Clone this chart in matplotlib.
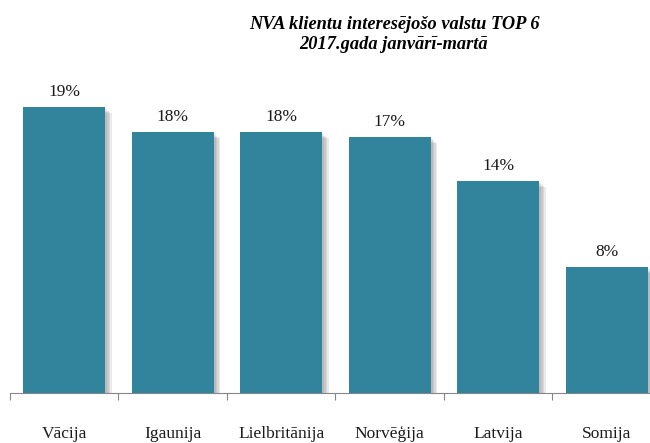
import matplotlib
matplotlib.use("Agg")
import matplotlib.pyplot as plt
import matplotlib.patheffects as pe
import numpy as np

categories = ["Vācija", "Igaunija", "Lielbritānija", "Norvēģija", "Latvija", "Somija"]
values = [19.23, 17.55, 17.55, 17.22, 14.26, 8.47]
labels = ["19%", "18%", "18%", "17%", "14%", "8%"]
title = "NVA klientu interesējošo valstu TOP 6\n2017.gada janvārī-martā"

plt.rcParams['font.family'] = ['Liberation Serif', 'DejaVu Serif']

W, H = 650, 443
fig = plt.figure(figsize=(W / 100, H / 100), dpi=100)
left_px, base_px, top_px, slot = 10, 393, 60, 108.5
ax = fig.add_axes([left_px / W, (H - base_px) / H, 6 * slot / W, (base_px - top_px) / H])

shadow = [pe.SimplePatchShadow(offset=(d, -d), shadow_rgbFace="#606060", alpha=0.13)
          for d in (4.5, 3.5, 2.5, 1.5)]
x = np.arange(len(categories))
bars = ax.bar(x, values, width=0.756, color="#31849B", zorder=3,
              path_effects=shadow + [pe.Normal()])
for xi, v, lab in zip(x, values, labels):
    ax.annotate(lab, (xi, v), xytext=(0, 5), textcoords="offset points",
                ha="center", va="bottom", fontsize=12.5, color="#1a1a1a")

ax.set_xlim(-0.5, len(categories) - 0.5)
ax.set_ylim(0, (base_px - top_px) / 14.87)
ax.set_yticks([])
for s in ["top", "right", "left"]:
    ax.spines[s].set_visible(False)
ax.spines["bottom"].set_color("#868686")
ax.spines["bottom"].set_linewidth(0.8)

ax.set_xticks(x)
ax.set_xticklabels(categories, fontsize=12.5, color="#1a1a1a")
ax.tick_params(axis="x", which="major", length=0, pad=23.5)
ax.set_xticks(np.arange(-0.5, len(categories), 1.0), minor=True)
ax.tick_params(axis="x", which="minor", length=5, color="#868686", width=0.8)

fig.text(394 / W, 1 - 34.5 / H, title, ha="center", va="center", fontsize=13.2,
         fontweight="bold", fontstyle="italic", linespacing=1.3)

fig.savefig("out.png", dpi=100)
